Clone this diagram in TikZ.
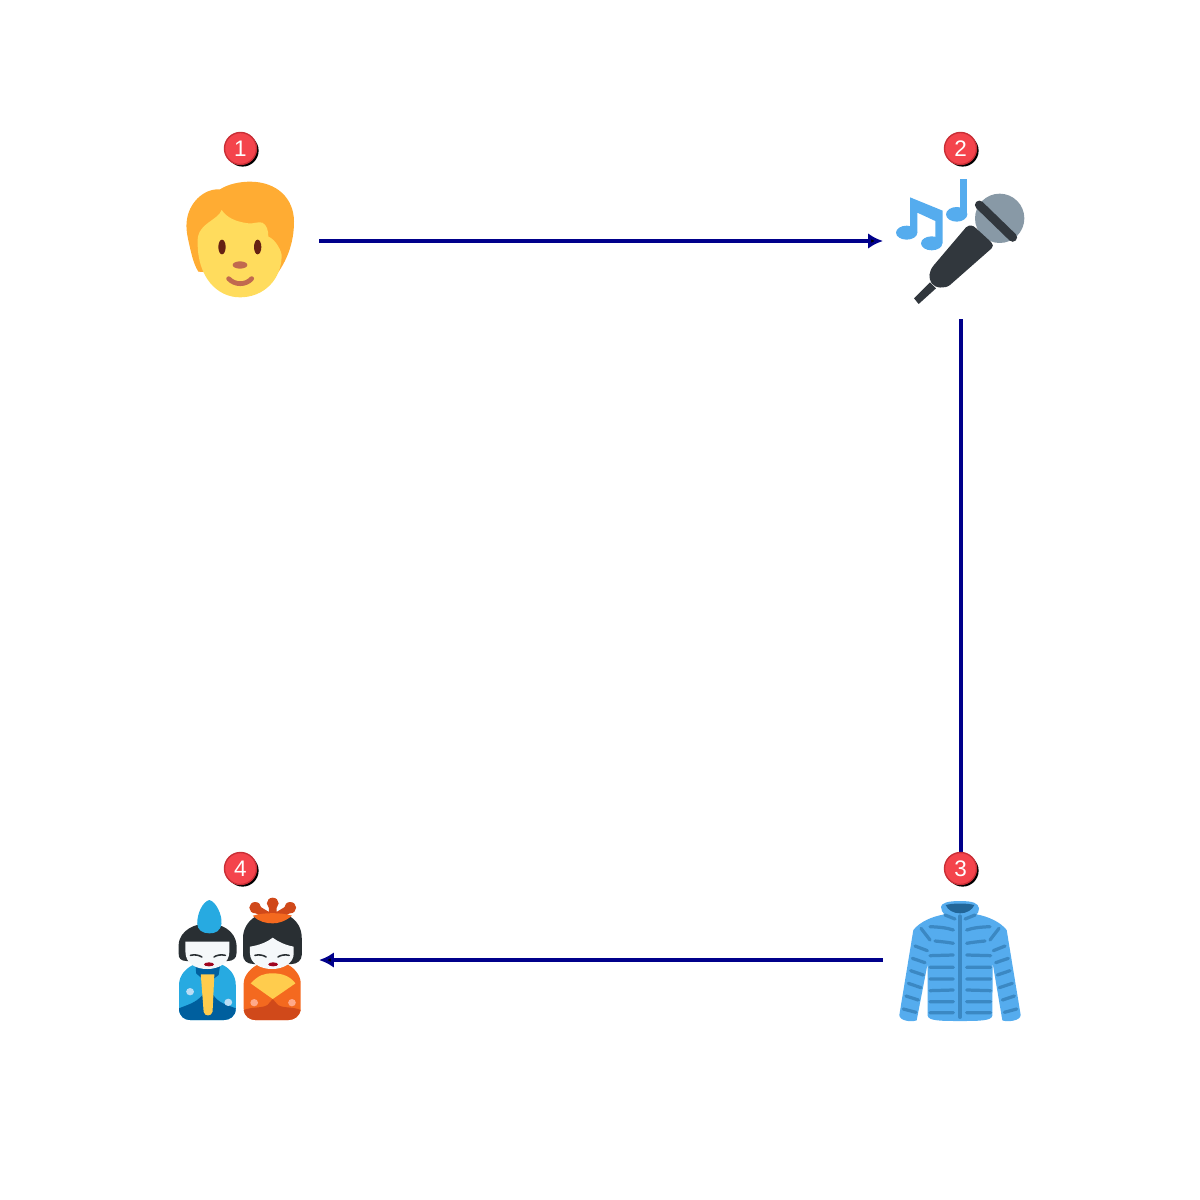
\documentclass[tikz,border=0pt]{standalone}
\usepackage{fontspec}
\setmainfont{Liberation Sans}
\usepackage{tikz}
\usetikzlibrary{arrows.meta}
\usetikzlibrary{shadows}
\definecolor{linkblue}{HTML}{00008B}
\definecolor{badgered}{HTML}{F4444C}
\definecolor{badgerim}{HTML}{C92F36}
\definecolor{hairorange}{HTML}{FFAC33}
\definecolor{skinyellow}{HTML}{FFDC5D}
\definecolor{eyebrown}{HTML}{662113}
\definecolor{nosebrown}{HTML}{C1694F}
\definecolor{noteblue}{HTML}{55ACEE}
\definecolor{micgrey}{HTML}{8899A6}
\definecolor{micdark}{HTML}{31373D}
\definecolor{stripeblue}{HTML}{3B88C3}
\definecolor{collarblue}{HTML}{226699}
\definecolor{dollblue}{HTML}{27AAE1}
\definecolor{dollnavy}{HTML}{005F9E}
\definecolor{dollhair}{HTML}{292F33}
\definecolor{dollface}{HTML}{F5F8FA}
\definecolor{dollgold}{HTML}{FFCC4D}
\definecolor{dolldot}{HTML}{BBDDF5}
\definecolor{dolllips}{HTML}{A0041E}
\definecolor{dollorange}{HTML}{F4691F}
\definecolor{dollrust}{HTML}{D0491A}
\definecolor{dollpeach}{HTML}{FFA98A}

\begin{document}
\begin{tikzpicture}[x=0.025cm,y=-0.025cm,>/.tip={Latex[length=10.5pt,width=11pt]},
	iconbox/.style={minimum size=3.9cm,inner sep=0pt,outer sep=0pt},
	badge/.style={shape=circle,minimum size=0.8cm,inner sep=0pt,fill=badgered,draw=badgerim,line width=1pt,text=white,font=\fontsize{16}{16}\selectfont,drop shadow={shadow xshift=1.5pt,shadow yshift=-1.5pt,fill=black,opacity=1}},
	link/.style={->,draw=linkblue,line width=2.6pt},
	zoomed/.style={x=0.008333cm,y=-0.008333cm},
	stripe/.style={draw=stripeblue,line width=2.3pt,line cap=round},
	eyeline/.style={draw=dollhair,line width=1.1pt,line cap=round}]
	\useasboundingbox (0,0) rectangle (1200,1200);
	\node (person) [iconbox] at (241,241) {};
	\node (singer) [iconbox] at (961,241) {};
	\node (jacket) [iconbox] at (961,960) {};
	\node (dolls) [iconbox] at (241,960) {};
	\begin{scope}[shift={(185,180)},zoomed]
		\fill[hairorange] (105,28) .. controls (130,12) and (165,5) .. (195,5) .. controls (275,5) and (327,55) .. (327,125) .. controls (327,190) and (305,245) .. (270,290) -- (40,275) .. controls (25,250) and (20,225) .. (12,190) .. controls (5,160) and (3,140) .. (5,125) .. controls (10,70) and (55,25) .. (105,28) -- cycle;
		\fill[skinyellow] (38,190) .. controls (36,160) and (48,145) .. (70,128) .. controls (85,117) and (105,105) .. (110,90) .. controls (125,112) and (150,125) .. (190,130) .. controls (205,132) and (220,124) .. (232,128) .. controls (245,135) and (250,150) .. (250,170) .. controls (265,175) and (285,200) .. (290,225) .. controls (290,300) and (235,352) .. (165,352) .. controls (95,352) and (38,290) .. (38,190) -- cycle;
		\fill[eyebrown] (111,201) ellipse [x radius=11,y radius=22];
		\fill[eyebrown] (218,201) ellipse [x radius=11,y radius=22];
		\fill[nosebrown] (165,255) ellipse [x radius=22,y radius=11];
		\draw[nosebrown,line width=3.4pt,line cap=round] (131,296) .. controls (150,316) and (182,316) .. (200,296);
	\end{scope}
	\begin{scope}[shift={(860,120)},zoomed]
		\fill[noteblue] (150,232) -- (248,272) -- (248,370) -- (226,370) -- (226,303) -- (172,278) -- (172,338) -- (150,338) -- cycle;
		\fill[noteblue] (140,338) ellipse [x radius=32,y radius=21];
		\fill[noteblue] (215,370) ellipse [x radius=32,y radius=21];
		\fill[noteblue] (301,178) -- (322,178) -- (322,285) -- (301,285) -- cycle;
		\fill[noteblue] (290,283) ellipse [x radius=32,y radius=22];
		\fill[micgrey] (419,295) circle [radius=74];
		\draw[micdark,line width=6.3pt,line cap=round] (358,255) -- (458,352);
		\fill[micdark] (318,322) .. controls (330,312) and (340,318) .. (345,322) -- (392,365) .. controls (400,375) and (400,380) .. (395,385) -- (270,495) .. controls (255,507) and (225,505) .. (215,490) .. controls (205,475) and (205,455) .. (222,435) -- cycle;
		\fill[micdark] (210,487) -- (162,535) -- (176,552) -- (228,505) -- cycle;
	\end{scope}
	\begin{scope}[shift={(895,895)},zoomed]
		\fill[noteblue] (138,35) .. controls (140,25) and (155,18) .. (195,18) .. controls (235,18) and (250,25) .. (252,40) .. controls (252,50) and (248,55) .. (245,58) .. controls (280,65) and (315,80) .. (335,105) -- (377,360) .. controls (377,378) and (335,382) .. (322,376) -- (293,205) -- (292,362) .. controls (290,378) and (250,378) .. (195,378) .. controls (140,378) and (100,378) .. (98,362) -- (98,205) -- (65,376) .. controls (50,382) and (13,378) .. (13,360) -- (55,105) .. controls (75,80) and (110,65) .. (148,58) .. controls (142,52) and (138,45) .. (138,35) -- cycle;
		\fill[collarblue] (152,30) .. controls (175,24) and (215,24) .. (238,30) .. controls (232,45) and (215,55) .. (195,55) .. controls (175,55) and (158,45) .. (152,30) -- cycle;
		\draw[stripeblue,line width=2.8pt,line cap=round] (195,64) -- (195,366);
		\draw[stripe] (150,60) -- (180,72) (105,95) .. controls (130,96) and (155,98) .. (175,105) (120,138) .. controls (140,140) and (160,142) .. (175,145) (105,182) -- (175,180) (105,217) -- (175,217) (105,252) -- (175,252) (105,287) -- (175,285) (105,320) -- (175,320) (105,353) -- (175,353);
		\draw[stripe] (240,60) -- (210,72) (285,95) .. controls (260,96) and (235,98) .. (215,105) (270,138) .. controls (250,140) and (230,142) .. (215,145) (287,182) -- (215,180) (287,217) -- (215,217) (287,252) -- (215,252) (287,287) -- (215,285) (287,320) -- (215,320) (287,353) -- (215,353);
		\draw[stripe] (78,100) -- (105,135) (60,153) -- (97,167) (52,190) -- (90,203) (47,227) -- (85,240) (40,265) -- (78,278) (33,303) -- (70,315) (25,342) -- (63,352);
		\draw[stripe] (312,100) -- (285,135) (330,153) -- (295,167) (340,190) -- (302,203) (345,227) -- (307,240) (352,265) -- (313,278) (358,303) -- (322,315) (365,342) -- (328,352);
	\end{scope}
	\begin{scope}[shift={(174,895)},zoomed,x=0.00892cm]
		\fill[dollblue] (14,340) -- (14,270) .. controls (14,240) and (35,215) .. (65,205) -- (125,205) .. controls (155,215) and (173,240) .. (173,270) -- (173,340) .. controls (173,365) and (155,375) .. (140,375) -- (45,375) .. controls (30,375) and (14,365) .. (14,340) -- cycle;
		\fill[dollnavy] (14,340) .. controls (35,330) and (60,325) .. (80,300) -- (110,300) .. controls (125,325) and (150,330) .. (173,340) .. controls (173,365) and (155,375) .. (140,375) -- (45,375) .. controls (30,375) and (14,365) .. (14,340) -- cycle;
		\fill[dollnavy] (60,205) -- (130,205) -- (125,240) -- (110,252) -- (80,252) -- (62,235) -- cycle;
		\fill[dollgold] (75,238) -- (113,238) -- (108,350) .. controls (105,365) and (85,365) .. (83,350) -- cycle;
		\fill[dolldot] (45,290) circle [radius=11];
		\fill[dolldot] (152,322) circle [radius=11];
		\fill[dollhair] (13,150) .. controls (15,105) and (60,85) .. (95,85) .. controls (130,85) and (172,105) .. (175,150) -- (175,175) .. controls (175,190) and (165,198) .. (150,198) -- (35,198) .. controls (20,198) and (12,190) .. (13,175) -- cycle;
		\fill[dollface] (32,140) -- (155,140) -- (155,170) .. controls (155,205) and (125,222) .. (93,222) .. controls (60,222) and (32,205) .. (32,170) -- cycle;
		\fill[dollblue] (99,15) .. controls (118,20) and (135,60) .. (133,85) .. controls (130,110) and (115,115) .. (99,115) .. controls (80,115) and (65,105) .. (65,85) .. controls (65,55) and (80,20) .. (99,15) -- cycle;
		\draw[eyeline] (46,181) .. controls (58,178) and (70,180) .. (78,186) (112,186) .. controls (120,180) and (132,178) .. (144,181);
		\fill[dolllips] (98,208) ellipse [x radius=14,y radius=6];
	\end{scope}
	\begin{scope}[shift={(239.5,895)},zoomed,x=0.00875cm]
		\fill[dollorange] (12,340) -- (12,265) .. controls (12,240) and (35,215) .. (60,205) -- (130,205) .. controls (155,215) and (175,240) .. (175,265) -- (175,340) .. controls (175,365) and (155,375) .. (140,375) -- (45,375) .. controls (30,375) and (12,365) .. (12,340) -- cycle;
		\fill[dollrust] (12,345) .. controls (35,335) and (65,340) .. (80,330) -- (95,312) -- (110,330) .. controls (125,340) and (155,335) .. (175,345) .. controls (170,365) and (155,375) .. (140,375) -- (45,375) .. controls (30,375) and (15,365) .. (12,345) -- cycle;
		\fill[dollgold] (32,265) .. controls (55,240) and (70,235) .. (95,235) .. controls (125,235) and (145,245) .. (160,265) -- (95,312) -- cycle;
		\fill[dollpeach] (42,323) circle [radius=11];
		\fill[dollpeach] (150,323) circle [radius=11];
		\fill[dollhair] (10,180) -- (10,130) .. controls (10,100) and (25,78) .. (45,65) -- (145,65) .. controls (165,78) and (178,100) .. (178,130) -- (178,180) .. controls (178,195) and (165,207) .. (150,207) -- (40,207) .. controls (20,207) and (10,195) .. (10,180) -- cycle;
		\fill[dollface] (30,155) .. controls (60,150) and (80,140) .. (95,128) .. controls (110,140) and (130,150) .. (155,155) -- (155,175) .. controls (155,205) and (125,222) .. (93,222) .. controls (60,222) and (30,205) .. (30,175) -- cycle;
		\draw[dollrust,line width=5.6pt,line cap=round] (45,40) -- (80,62) (95,25) -- (95,62) (145,40) -- (110,62);
		\fill[dollrust] (45,38) circle [radius=17];
		\fill[dollrust] (95,25) circle [radius=17];
		\fill[dollrust] (145,38) circle [radius=17];
		\fill[dollorange] (38,62) .. controls (70,52) and (120,52) .. (150,62) .. controls (130,80) and (110,85) .. (95,85) .. controls (75,85) and (55,80) .. (38,62) -- cycle;
		\draw[eyeline] (44,181) .. controls (56,178) and (68,180) .. (76,186) (110,186) .. controls (118,180) and (130,178) .. (142,181);
		\fill[dolllips] (96,208) ellipse [x radius=14,y radius=6];
	\end{scope}
	\path[link] (person) edge (singer);
	\path[link] (singer) edge (jacket);
	\path[link] (jacket) edge (dolls);
	\node (one) [badge] at (240.5,148.5) {1};
	\node (two) [badge] at (960.5,148.5) {2};
	\node (three) [badge] at (960.5,868.5) {3};
	\node (four) [badge] at (240.5,868.5) {4};
\end{tikzpicture}
\end{document}
